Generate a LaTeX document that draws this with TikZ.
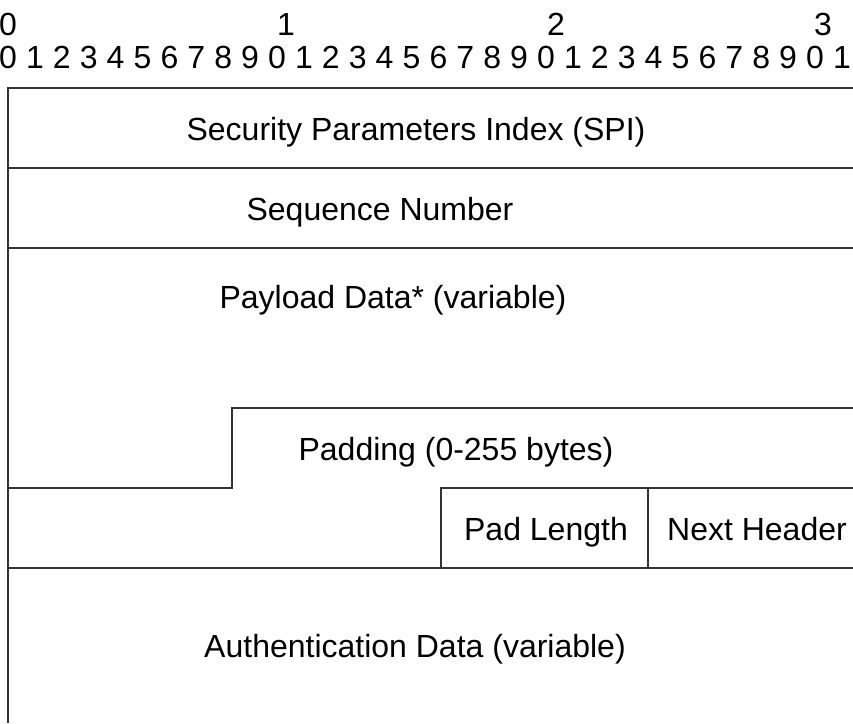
\documentclass[tikz,border=0pt]{standalone}
\usepackage{fontspec}
\setmainfont{Liberation Sans}
\begin{document}
\begin{tikzpicture}[x=1pt,y=-1pt,
  fieldline/.style={line width=1.6pt,draw=black!80},
  lbl/.style={font=\fontsize{32}{38}\selectfont,inner sep=0pt,anchor=base},
  dig/.style={font=\fontsize{32}{38}\selectfont,inner sep=0pt,anchor=base}]
\useasboundingbox (0,0) rectangle (853,723);
% bit ruler
\node[dig] (t0) at (8,35) {0};
\node[dig] (t1) at (286,35) {1};
\node[dig] (t2) at (556,35) {2};
\node[dig] (t3) at (823,35) {3};
\foreach \i in {0,...,31}{
  \pgfmathtruncatemacro{\d}{mod(\i,10)}
  \node[dig] (b\i) at ({8+\i*26.9},68) {\d};
}
% frame lines
\draw[fieldline] (853,88) -- (8,88) -- (8,723);
\draw[fieldline] (8,168) -- (853,168);
\draw[fieldline] (8,248) -- (853,248);
\draw[fieldline] (853,408) -- (232,408) -- (232,488) -- (8,488);
\draw[fieldline] (853,488) -- (441,488) -- (441,568);
\draw[fieldline] (648,488) -- (648,568);
\draw[fieldline] (8,568) -- (853,568);
% field labels
\node[lbl] (spi) at (416,140) {Security Parameters Index (SPI)};
\node[lbl] (seq) at (380,220) {Sequence Number};
\node[lbl] (pay) at (393,308) {Payload Data* (variable)};
\node[lbl] (pad) at (456,460) {Padding (0-255 bytes)};
\node[lbl] (padlen) at (546,540) {Pad Length};
\node[lbl] (nxt) at (757,540) {Next Header};
\node[lbl] (auth) at (415,657) {Authentication Data (variable)};
\end{tikzpicture}
\end{document}
